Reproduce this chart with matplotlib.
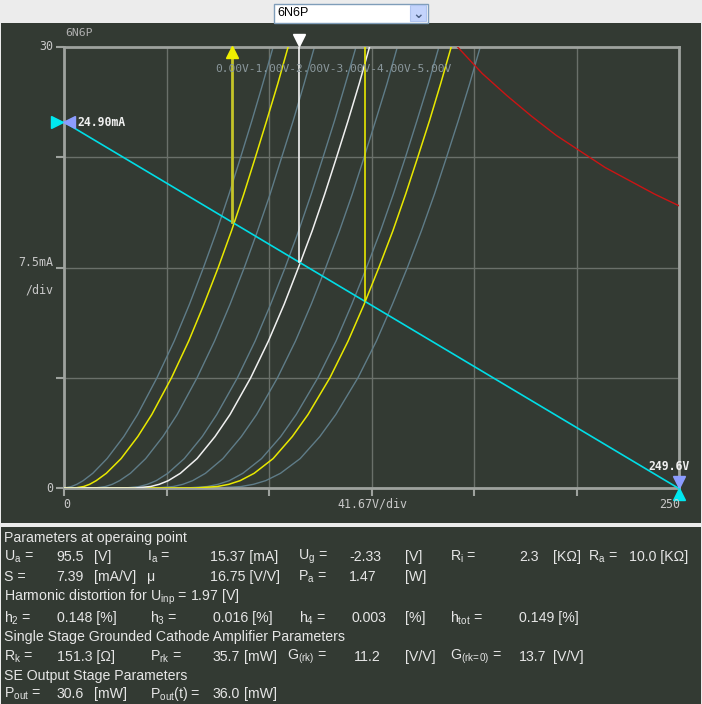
import matplotlib.pyplot as plt
import numpy as np
from matplotlib.patches import Rectangle
from matplotlib.transforms import offset_copy

plt.rcParams['mathtext.default'] = 'regular'

tube = "6N6P"

# anode current levels (mA) shared by all curves
ia_levels = [0, 0, 0.1, 0.25, 0.5, 1, 2, 3.5, 5, 7.5, 10, 12.5, 15, 17.5, 20, 22.5, 25, 27.5, 30]

# anode voltage (V) of each grid curve at the levels above
ua_g0 = [0, 0, 3.0, 5.2, 7.8, 11.7, 17.5, 24.3, 29.9, 37.8, 44.8, 51.0, 56.7, 62.1, 67.1, 71.8, 76.4, 80.8, 85.0]
ua_g1 = [0, 12.4, 16.8, 19.6, 22.6, 27.0, 33.2, 40.2, 46.0, 54.1, 61.2, 67.5, 73.3, 78.7, 83.8, 88.5, 93.2, 97.6, 101.8]
ua_g2 = [0, 24.8, 30.6, 33.9, 37.5, 42.2, 48.9, 56.2, 62.1, 70.5, 77.7, 84.0, 89.9, 95.4, 100.5, 105.3, 110.0, 114.4, 118.7]
ua_g3 = [0, 37.2, 44.4, 48.3, 52.3, 57.5, 64.6, 72.1, 78.3, 86.8, 94.1, 100.5, 106.4, 112.0, 117.2, 122.0, 126.7, 131.3, 135.5]
ua_g4 = [0, 49.6, 58.2, 62.6, 67.2, 72.7, 80.3, 88.1, 94.4, 103.2, 110.6, 117.0, 123.0, 128.7, 133.9, 138.8, 143.5, 148.1, 152.4]
ua_g5 = [0, 62.0, 72.0, 77.0, 82.0, 88.0, 96.0, 104.0, 110.5, 119.5, 127.0, 133.5, 139.6, 145.3, 150.6, 155.5, 160.3, 164.9, 169.2]
# swing curves: Ug = -0.36 V, -2.33 V (operating point), -4.30 V
ua_swing_lo = [0, 4.5, 8.0, 10.4, 13.1, 17.2, 23.2, 30.0, 35.7, 43.7, 50.7, 56.9, 62.7, 68.1, 73.1, 77.8, 82.4, 86.9, 91.1]
ua_opcurve = [0, 28.9, 35.2, 38.7, 42.4, 47.3, 54.1, 61.4, 67.5, 75.9, 83.1, 89.5, 95.3, 100.9, 106.0, 110.8, 115.5, 120.0, 124.2]
ua_swing_hi = [0, 53.3, 62.3, 67.0, 71.6, 77.3, 85.0, 92.8, 99.2, 108.1, 115.5, 122.0, 128.0, 133.7, 138.9, 143.8, 148.6, 153.1, 157.4]

# max anode dissipation curve
pd_ua = [160, 170, 180, 190, 200, 210, 220, 230, 240, 250]
pd_ia = [30.0, 28.2, 26.7, 25.3, 24.0, 22.9, 21.8, 20.9, 20.0, 19.2]

# load line and operating point
ia_max = 24.90
ua_max = 249.6
ua_op = 95.5
ia_op = 15.37
ua_lo = 68.3
ua_hi = 122.4

grid_label = "0.00V-1.00V-2.00V-3.00V-4.00V-5.00V"

W, H = 702, 704
fig = plt.figure(figsize=(W / 100, H / 100), dpi=100)
fig.patch.set_facecolor('#ececec')

def fx(x):
    return x / W

def fy(y):
    return 1 - y / H

bg = '#333a33'
fig.add_artist(Rectangle((fx(1), fy(522.5)), fx(700), 499.5 / H, transform=fig.transFigure,
                         facecolor=bg, edgecolor='none', zorder=0))
fig.add_artist(Rectangle((fx(1), fy(704)), fx(700), 177 / H, transform=fig.transFigure,
                         facecolor=bg, edgecolor='none', zorder=0))

# combo box
fig.add_artist(Rectangle((fx(273.5), fy(22.5)), fx(154), 19 / H, transform=fig.transFigure,
                         facecolor='white', edgecolor='#7f9db9', lw=1, zorder=1))
fig.add_artist(Rectangle((fx(410), fy(21)), fx(16), 16 / H, transform=fig.transFigure,
                         facecolor='#c4d4fc', edgecolor='#b0c4f0', lw=0.8, zorder=2))
fig.text(fx(418), fy(13.5), "⌄", color='#4d6185', fontsize=10, ha='center', va='center',
         fontweight='bold', zorder=3)
fig.text(fx(277), fy(13), tube, color='black', fontsize=9, ha='left', va='center',
         family='Liberation Sans', zorder=3)

ax = fig.add_axes([fx(64), fy(488), 615 / W, 441 / H])
ax.set_facecolor('none')
ax.set_xlim(0, 250)
ax.set_ylim(0, 30)
for s in ax.spines.values():
    s.set_color('#9ea29e')
    s.set_linewidth(2)
ax.set_xticks(np.arange(0, 251, 250 / 6))
ax.set_yticks([0, 7.5, 15, 22.5, 30])
ax.set_xticklabels([])
ax.set_yticklabels([])
ax.tick_params(direction='out', length=6, width=1.5, color='#9ea29e')
for t in ax.yaxis.get_major_ticks()[1:4]:
    t.tick1line.set_color('white')
ax.grid(True, color='#6a706a', lw=1)
ax.set_axisbelow(True)

gray = '#5f7c88'
for ua in [ua_g0, ua_g1, ua_g2, ua_g3, ua_g4, ua_g5]:
    ax.plot(ua, ia_levels, color=gray, lw=1, zorder=2)
ax.plot(ua_swing_lo, ia_levels, color='#e8e800', lw=1.1, zorder=3)
ax.plot(ua_swing_hi, ia_levels, color='#e8e800', lw=1.1, zorder=3)
ax.plot(ua_opcurve, ia_levels, color='#f0f0f0', lw=1.1, zorder=3)

ax.plot(pd_ua, pd_ia, color='#cc1414', lw=1, zorder=3)

# load line
ax.plot([0, ua_max], [ia_max, 0], color='#00dde6', lw=1.2, zorder=4, clip_on=False)

def load_i(u):
    return ia_max * (1 - u / ua_max)

ax.plot([ua_lo, ua_lo], [load_i(ua_lo), 30], color='#c4c428', lw=2, zorder=4)
ax.plot([ua_hi, ua_hi], [load_i(ua_hi), 30], color='#e8e800', lw=1.2, zorder=4)
ax.plot([ua_op, ua_op], [ia_op, 30], color='#f4f4f4', lw=1.2, zorder=4)

def off(dx, dy):
    return offset_copy(ax.transData, fig=fig, x=dx, y=dy, units='dots')

ax.plot([0], [ia_max], marker='>', ms=9, color='#00e8f0', transform=off(-7, 0), clip_on=False, zorder=5)
ax.plot([0], [ia_max], marker='<', ms=9, color='#8c9cff', transform=off(5, 0), clip_on=False, zorder=5)
ax.plot([ua_max], [0], marker='v', ms=9, color='#8c9cff', transform=off(1, 6), clip_on=False, zorder=5)
ax.plot([ua_max], [0], marker='^', ms=9, color='#00e8f0', transform=off(1, -6), clip_on=False, zorder=5)
ax.plot([ua_lo], [30], marker='^', ms=9, color='#f0f000', transform=off(0, -5), clip_on=False, zorder=5)
ax.plot([ua_op], [30], marker='v', ms=9, color='white', transform=off(0, 7), clip_on=False, zorder=5)

mono = 'DejaVu Sans Mono'
lab = '#c8c8c8'
fig.text(fx(65), fy(33), tube, color='#b0b0b0', fontsize=8.2, family=mono, va='center')
fig.text(fx(53), fy(47), "30", color=lab, fontsize=8.4, family=mono, ha='right', va='center')
fig.text(fx(53), fy(488), "0", color=lab, fontsize=8.4, family=mono, ha='right', va='center')
fig.text(fx(53), fy(263), "7.5mA", color=lab, fontsize=8.4, family=mono, ha='right', va='center')
fig.text(fx(53), fy(290), "/div", color=lab, fontsize=8.4, family=mono, ha='right', va='center')
fig.text(fx(67), fy(504), "0", color=lab, fontsize=8.4, family=mono, ha='center', va='center')
fig.text(fx(372), fy(504), "41.67V/div", color=lab, fontsize=8.4, family=mono, ha='center', va='center')
fig.text(fx(670), fy(504), "250", color=lab, fontsize=8.4, family=mono, ha='center', va='center')
fig.text(fx(215), fy(69), grid_label, color='#8a979c', fontsize=8.1, family=mono, va='center')
fig.text(fx(77), fy(122), f"{ia_max:.2f}mA", color='#f0f0f0', fontsize=8.3, family=mono,
         fontweight='bold', va='center')
fig.text(fx(669), fy(467), f"{ua_max:.1f}V", color='#f0f0f0', fontsize=8.3, family=mono,
         fontweight='bold', ha='center', va='center')

# parameter panel
rows = [
    (538, [(4, "Parameters at operaing point")]),
    (557, [(4, "U$_a$ ="), (56, "95.5"), (94, "[V]"), (147, "I$_a$ ="), (210, "15.37 [mA]"),
           (298, "U$_g$ ="), (349, "-2.33"), (405, "[V]"), (450, "R$_i$ ="), (519, "2.3"),
           (553, "[KΩ]"), (588, "R$_a$ ="), (629, "10.0 [KΩ]")]),
    (577, [(4, "S ="), (56, "7.39"), (94, "[mA/V]"), (147, "μ"), (210, "16.75 [V/V]"),
           (298, "P$_a$ ="), (349, "1.47"), (405, "[W]")]),
    (597, [(4, "Harmonic distortion for U$_{inp}$ = 1.97 [V]")]),
    (618, [(4, "h$_2$ ="), (57, "0.148 [%]"), (150, "h$_3$ ="), (213, "0.016 [%]"),
           (299, "h$_4$ ="), (352, "0.003"), (405, "[%]"), (450, "h$_{tot}$ ="), (519, "0.149 [%]")]),
    (637, [(4, "Single Stage Grounded Cathode Amplifier Parameters")]),
    (657, [(4, "R$_k$ ="), (57, "151.3 [Ω]"), (150, "P$_{rk}$ ="), (213, "35.7"), (244, "[mW]"),
           (287, "G$_{(rk)}$ ="), (354, "11.2"), (405, "[V/V]"), (450, r"G$_{(rk\!=\!0)}$ ="),
           (519, "13.7"), (553, "[V/V]")]),
    (676, [(4, "SE Output Stage Parameters")]),
    (694, [(4, "P$_{out}$ ="), (57, "30.6"), (94, "[mW]"), (150, "P$_{out}$(t) ="), (213, "36.0"),
           (244, "[mW]")]),
]
for y, items in rows:
    for x, s in items:
        fig.text(fx(x), fy(y), s, color='#e6e6e6', fontsize=10.2, family='Liberation Sans',
                 ha='left', va='center')

fig.savefig('out.png', dpi=100, facecolor=fig.get_facecolor())
